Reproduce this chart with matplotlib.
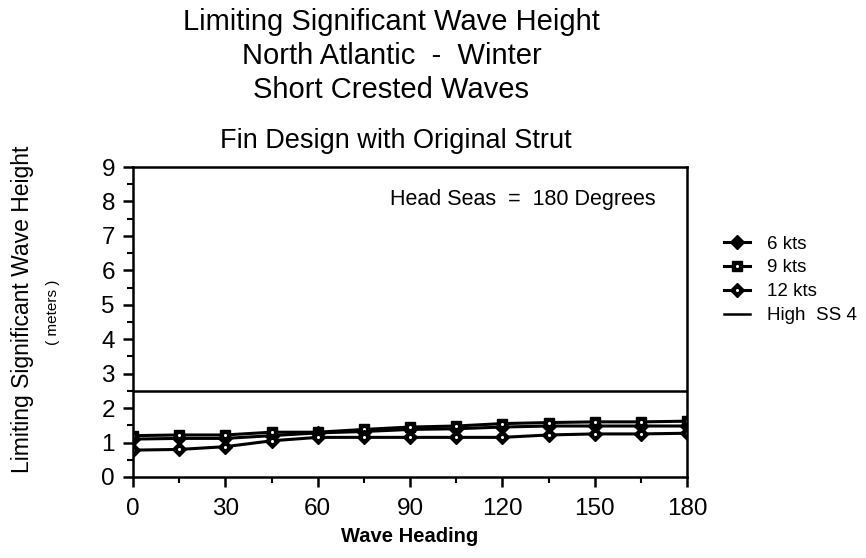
import numpy as np
import matplotlib
matplotlib.use("Agg")
import matplotlib.pyplot as plt
from matplotlib.ticker import MultipleLocator

plt.rcParams["font.family"] = ["Liberation Sans", "DejaVu Sans"]

# --- dados ---
heading = [0, 15, 30, 45, 60, 75, 90, 105, 120, 135, 150, 165, 180]
kts6  = [1.10, 1.12, 1.12, 1.20, 1.28, 1.32, 1.38, 1.40, 1.45, 1.48, 1.48, 1.48, 1.48]
kts9  = [1.20, 1.22, 1.22, 1.30, 1.30, 1.38, 1.45, 1.48, 1.55, 1.58, 1.60, 1.60, 1.62]
kts12 = [0.78, 0.80, 0.88, 1.05, 1.15, 1.15, 1.15, 1.15, 1.15, 1.22, 1.25, 1.25, 1.27]
high_ss4 = 2.5

titles = ["Limiting Significant Wave Height",
          "North Atlantic  -  Winter",
          "Short Crested Waves"]
subtitle = "Fin Design with Original Strut"

fig = plt.figure(figsize=(8.66, 5.58), dpi=100)
ax = fig.add_axes([0.1536, 0.1452, 0.6397, 0.5555])

# linhas
dot = dict(ls="none", marker="o", ms=2.2, mew=0, color="white")
l6, = ax.plot(heading, kts6, color="black", lw=2.2, marker="D", ms=7.5)
l9, = ax.plot(heading, kts9, color="black", lw=2.2, marker="s", ms=7.5)
d9, = ax.plot(heading, kts9, **dot)
l12, = ax.plot(heading, kts12, color="black", lw=2.2, marker="D", ms=7.5)
d12, = ax.plot(heading, kts12, **dot)
lss = ax.axhline(high_ss4, color="black", lw=1.8)

ax.set_xlim(0, 180)
ax.set_ylim(0, 9)
ax.xaxis.set_major_locator(MultipleLocator(30))
ax.xaxis.set_minor_locator(MultipleLocator(15))
ax.yaxis.set_major_locator(MultipleLocator(1))
ax.yaxis.set_minor_locator(MultipleLocator(0.5))
ax.tick_params(which="major", direction="out", length=7, width=1.8, labelsize=17.5, pad=6)
ax.tick_params(axis="x", which="major", pad=8)
ax.tick_params(which="minor", direction="out", length=4, width=1.5)
for s in ax.spines.values():
    s.set_linewidth(1.8)

ax.set_xlabel("Wave Heading", fontsize=14.5, fontweight="bold", labelpad=5)

fig.text(0.026, 0.445, "Limiting Significant Wave Height", rotation=90,
         ha="center", va="center", fontsize=16.5)
fig.text(0.061, 0.44, "( meters )", rotation=90, ha="center", va="center", fontsize=11)

ax.text(0.703, 0.894, "Head Seas  =  180 Degrees", transform=ax.transAxes,
        ha="center", va="center", fontsize=15.5)

for i, t in enumerate(titles):
    fig.text(0.452, 1 - (22 + 34 * i) / 558, t, ha="center", va="center", fontsize=21)
fig.text(0.457, 1 - 141 / 558, subtitle, ha="center", va="center", fontsize=19.5)

fig.legend([l6, (l9, d9), (l12, d12), lss],
           ["6 kts", "9 kts", "12 kts", "High  SS 4"],
           loc="upper left", bbox_to_anchor=(0.836, 0.578), frameon=False,
           fontsize=13.5, handlelength=1.4, handletextpad=0.9,
           labelspacing=0.36, borderaxespad=0, borderpad=0)

fig.savefig("out.png", dpi=100)
